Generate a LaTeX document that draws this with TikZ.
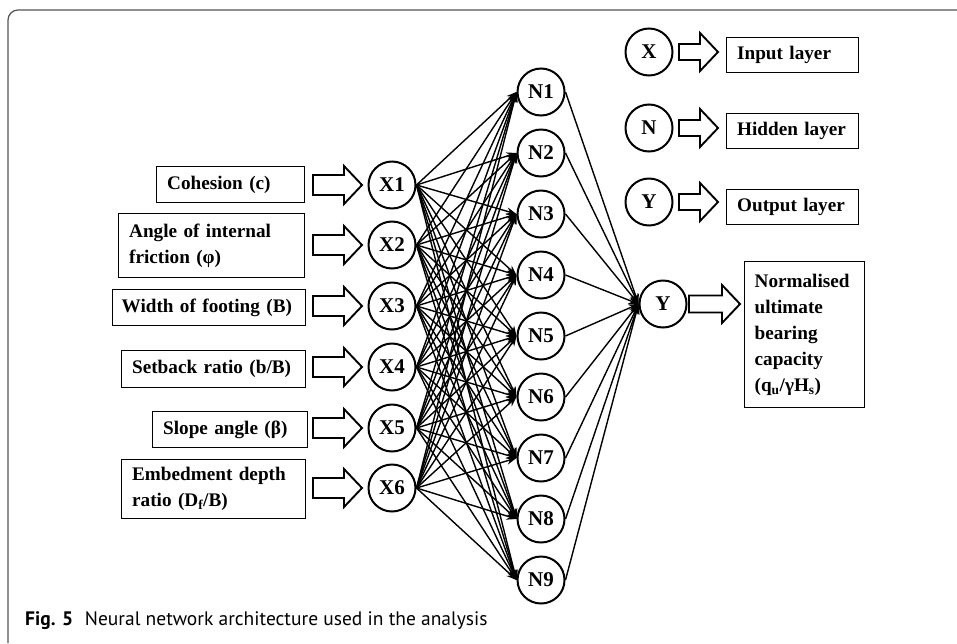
\documentclass[tikz,border=0pt]{standalone}
\usepackage{fontspec}
\setmainfont{Liberation Serif}
\newfontfamily\capfont{PT Sans}
\usetikzlibrary{arrows.meta}
\newcommand\blockarr[4]{\draw[blk] (#1,#3-#4) -- (#2-18,#3-#4) -- (#2-18,#3-19) -- (#2,#3) -- (#2-18,#3+19) -- (#2-18,#3+#4) -- (#1,#3+#4) -- cycle;}
\begin{document}
\begin{tikzpicture}[x=1pt,y=-1pt,
 neuron/.style={circle, draw, line width=2pt, minimum size=47pt, inner sep=0pt, font=\fontsize{21}{21}\selectfont\bfseries},
 lbl/.style={draw, line width=1.3pt, font=\fontsize{19.2}{26}\selectfont\bfseries, inner ysep=0pt, inner xsep=10.5pt, align=left, anchor=north west},
 blk/.style={draw, line width=1.9pt, line join=miter},
 conn/.style={line width=1.4pt, -{Stealth[length=10pt,width=7.5pt]}}]
\useasboundingbox (0,0) rectangle (957,643);
\draw[gray!65!black, line width=1.2pt, rounded corners=10pt] (8,643) -- (8,10) -- (957,10);

% input boxes
\node[lbl, minimum width=148pt, minimum height=36pt, text width=127pt] (b1) at (156,166) {Cohesion (c)};
\node[lbl, minimum width=186pt, minimum height=64pt, text width=165pt] (b2) at (118,213) {Angle of internal\\friction (φ)};
\node[lbl, minimum width=193pt, minimum height=36pt, text width=183pt, inner xsep=5pt] (b3) at (112,289) {\hspace*{4pt}Width of footing (B)};
\node[lbl, minimum width=184pt, minimum height=37pt, text width=163pt] (b4) at (121,350) {Setback ratio (b/B)};
\node[lbl, minimum width=155pt, minimum height=36pt, text width=134pt] (b5) at (152,411) {Slope angle (β)};
\node[lbl, minimum width=184pt, minimum height=59pt, text width=163pt] (b6) at (121,459) {Embedment depth\\ratio (D\textsubscript{f}/B)};

% block arrows inputs
\foreach \yy in {185,245,306,367,428,488} {\blockarr{313}{362}{\yy}{10}}

% input neurons
\foreach \i/\yy in {1/185,2/245,3/306,4/367,5/428,6/488}
  \node[neuron] (X\i) at (392,\yy) {X\i};

% hidden neurons
\foreach \j/\yy in {1/92,2/153,3/214,4/275,5/336,6/397,7/458,8/519,9/580}
  \node[neuron] (N\j) at (541,\yy) {N\j};

% output neuron
\node[neuron] (Y) at (663,304) {Y};

% connections
\foreach \i in {1,...,6}
  \foreach \j in {1,...,9}
    \draw[conn] (X\i.east) -- (N\j.west);
\foreach \j in {1,...,9}
  \draw[conn] (N\j.east) -- (Y.west);

% output arrow and box
\blockarr{689}{740}{304}{8.5}
\node[lbl, minimum width=120pt, minimum height=146pt, text width=100pt, inner xsep=10pt] (out) at (744,261) {Normalised\\ultimate\\bearing\\capacity\\(q\textsubscript{u}/γH\textsubscript{s})};

% legend
\node[neuron] (LX) at (649,52) {X};
\node[neuron] (LN) at (649,128) {N};
\node[neuron] (LY) at (649,202) {Y};
\blockarr{679}{718}{52}{8}
\blockarr{679}{718}{128}{8}
\blockarr{679}{718}{202}{8}
\node[lbl, minimum width=132pt, minimum height=35pt, text width=111pt] (l1) at (726,37) {Input layer};
\node[lbl, minimum width=132pt, minimum height=35pt, text width=111pt] (l2) at (726,113) {Hidden layer};
\node[lbl, minimum width=132pt, minimum height=35pt, text width=111pt] (l3) at (726,189) {Output layer};

% caption
\node[anchor=base west, inner sep=0pt, font=\capfont\fontsize{19.5}{19.5}\selectfont] (cap) at (25,625) {\textbf{Fig. 5}\hspace{0.6em}Neural network architecture used in the analysis};
\end{tikzpicture}
\end{document}
